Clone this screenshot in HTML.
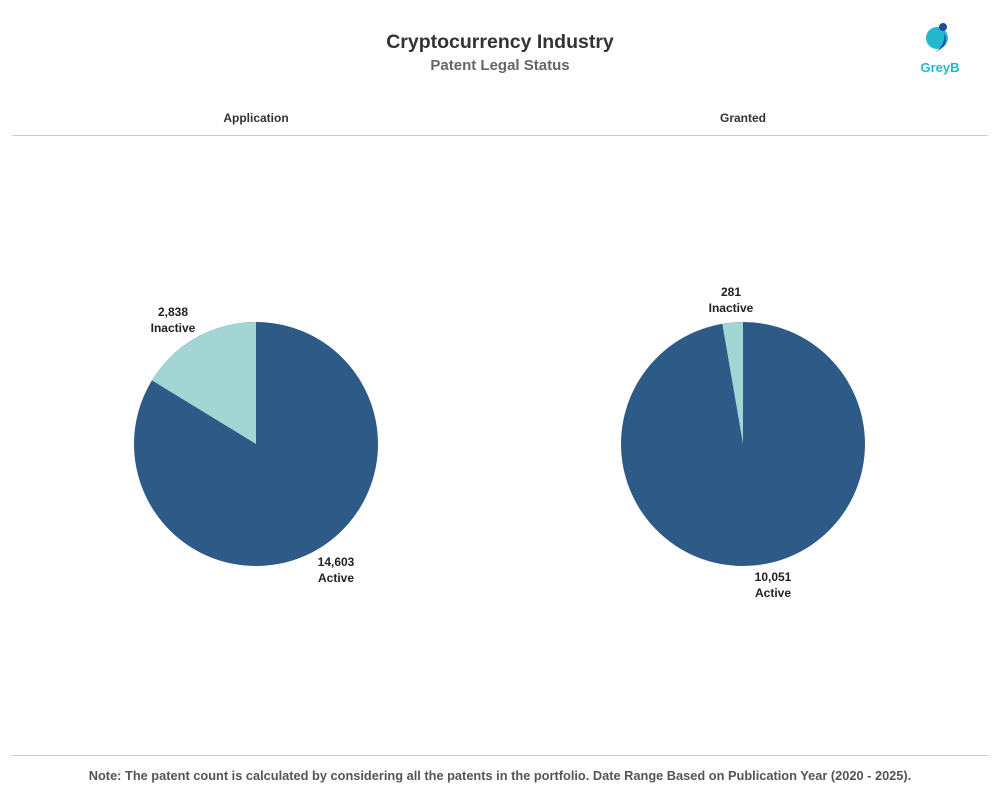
<!DOCTYPE html>
<html><head><style>
body{margin:0;width:1000px;height:800px;background:#fff;font-family:"Liberation Sans",sans-serif;position:relative;overflow:hidden}
.t{position:absolute;text-align:center;font-weight:bold}
</style></head><body>
<div class="t" style="left:0;width:1000px;top:31px;font-size:19.5px;color:#333">Cryptocurrency Industry</div>
<div class="t" style="left:0;width:1000px;top:57px;font-size:15px;color:#666">Patent Legal Status</div>
<div class="t" style="left:156px;width:200px;top:111px;font-size:12px;color:#333">Application</div>
<div class="t" style="left:643px;width:200px;top:111px;font-size:12px;color:#333">Granted</div>
<div style="position:absolute;left:12px;width:976px;top:135px;height:1px;background:#ccc"></div>
<div style="position:absolute;left:12px;width:976px;top:755px;height:1px;background:#ccc"></div>
<div class="t" style="left:0;width:1000px;top:768px;font-size:12.8px;color:#555">Note: The patent count is calculated by considering all the patents in the portfolio. Date Range Based on Publication Year (2020 - 2025).</div>
<svg width="1000" height="800" style="position:absolute;left:0;top:0">
<circle cx="256" cy="444" r="122" fill="#2e5a87"/>
<path d="M256,444 L256,322 A122,122 0 0 0 151.9,380.4 Z" fill="#a2d5d3"/>
<circle cx="743" cy="444" r="122" fill="#2e5a87"/>
<path d="M743,444 L743,322 A122,122 0 0 0 722.3,323.8 Z" fill="#a2d5d3"/>
<g font-family="Liberation Sans" font-size="12" font-weight="bold" fill="#222" text-anchor="middle">
<text x="173" y="316">2,838</text><text x="173" y="332">Inactive</text>
<text x="336" y="566">14,603</text><text x="336" y="582">Active</text>
<text x="731" y="296">281</text><text x="731" y="312">Inactive</text>
<text x="773" y="581">10,051</text><text x="773" y="597">Active</text>
</g>
<circle cx="937" cy="38" r="11" fill="#22b8cf"/>
<circle cx="943" cy="27" r="4" fill="#1f4aa0"/>
<path d="M944,33 Q950,45 936,52 Q946,44 944,33Z" fill="#1f4aa0"/>
<text x="940" y="72" font-family="Liberation Sans" font-size="13" font-weight="bold" fill="#22b8cf" text-anchor="middle">GreyB</text>
</svg>
</body></html>
